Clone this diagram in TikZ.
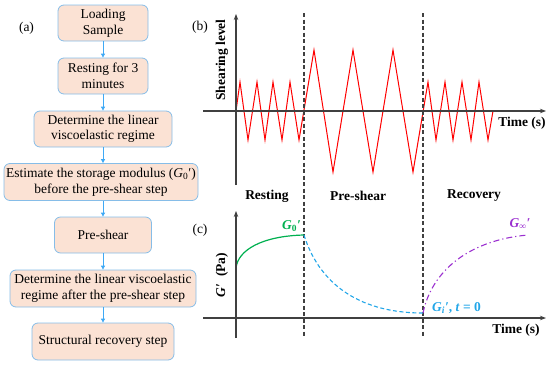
\documentclass[tikz,border=0pt]{standalone}
\usepackage{fontspec}
\setmainfont{Liberation Serif}
\usetikzlibrary{arrows.meta}
\definecolor{boxfill}{HTML}{FBE2D4}
\definecolor{boxline}{HTML}{86BDE8}
\definecolor{arrblue}{HTML}{3FA9F5}
\definecolor{gcol}{HTML}{00B050}
\definecolor{bcol}{HTML}{22A6E8}
\definecolor{pcol}{HTML}{9B30D0}
\definecolor{axcol}{HTML}{404040}
\begin{document}
\begin{tikzpicture}[x=1pt,y=-1pt,
 stepbox/.style={draw=boxline, fill=boxfill, rounded corners=6pt, line width=0.8pt, align=center, inner sep=0pt, minimum height=36pt, font=\fontsize{13.5}{15.5}\selectfont},
 flow/.style={draw=arrblue, line width=0.8pt, -{Triangle[length=4pt,width=4pt]}},
 axis/.style={draw=axcol, line width=1.1pt, -{Stealth[length=6pt,width=4.5pt]}},
 divider/.style={draw=axcol, line width=1.1pt, dash pattern=on 4pt off 2.5pt},
 lbl/.style={font=\fontsize{13.5}{15}\selectfont},
 blbl/.style={font=\bfseries\fontsize{13.5}{15}\selectfont}]
\useasboundingbox (0,0) rectangle (550,365);

% ---- (a) flowchart
\node[lbl] (la) at (26.5,28) {(a)};
\node[stepbox, minimum width=90pt] (b1) at (103,23) {Loading\\Sample};
\node[stepbox, minimum width=90pt] (b2) at (103,76) {Resting for 3\\minutes};
\node[stepbox, minimum width=138pt] (b3) at (103,129) {Determine the linear\\viscoelastic regime};
\node[stepbox, minimum width=194pt, minimum height=37pt] (b4) at (101,182) {Estimate the storage modulus (\textit{G}\textsubscript{0}′)\\before the pre-shear step};
\node[stepbox, minimum width=97pt] (b5) at (103,235) {Pre-shear};
\node[stepbox, minimum width=186pt, minimum height=37pt] (b6) at (103,288.5) {Determine the linear viscoelastic\\regime after the pre-shear step};
\node[stepbox, minimum width=142pt, minimum height=37pt] (b7) at (103,341.5) {Structural recovery step};
\draw[flow] (b1.south) -- (b2.north);
\draw[flow] (b2.south) -- (b3.north);
\draw[flow] (b3.south) -- (b4.north -| b3.south);
\draw[flow] (b4.south -| b5.north) -- (b5.north);
\draw[flow] (b5.south) -- (b6.north);
\draw[flow] (b6.south) -- (b7.north);

% ---- (b) shearing
\node[lbl] (lb) at (200,27) {(b)};
\draw[red, line width=1pt] (236,111) -- (240,82) -- (248,140) -- (257,82) -- (265,140) -- (273,82) -- (282,140) -- (290,82) -- (299,140)
  -- (314,50) -- (333,172) -- (353,50) -- (373,172) -- (393,50) -- (413,172)
  -- (428,82) -- (436,140) -- (445,82) -- (453,140) -- (462,82) -- (471,140) -- (479,82) -- (488,140) -- (493,111);
\coordinate (bo) at (236,185);
\coordinate (btop) at (236,14);
\coordinate (bxl) at (203,111);
\coordinate (bxr) at (546,111);
\draw[axis] (bo) -- (btop);
\draw[axis] (bxl) -- (bxr);
\node[blbl, rotate=90] (ylb) at (222,60) {Shearing level};
\node[blbl] (tb) at (522,123) {Time (s)};

% ---- dividers
\coordinate (d1t) at (304,13); \coordinate (d1b) at (304,337);
\coordinate (d2t) at (423,13); \coordinate (d2b) at (423,337);
\draw[divider] (d1t) -- (d1b);
\draw[divider] (d2t) -- (d2b);
\node[blbl] (s1) at (267,196) {Resting};
\node[blbl] (s2) at (358,196) {Pre-shear};
\node[blbl] (s3) at (474,196) {Recovery};

% ---- (c) modulus
\node[lbl] (lc) at (200,230) {(c)};
\coordinate (co) at (236,338);
\coordinate (ctop) at (236,211);
\coordinate (cxl) at (203,318);
\coordinate (cxr) at (546,318);
\draw[gcol, line width=1.2pt] (236,268) .. controls (238,250) and (262,236) .. (304,235);
\draw[bcol, line width=1.1pt, dash pattern=on 4pt off 2.5pt] (304,235) .. controls (318,280) and (355,313) .. (423,313);
\draw[pcol, line width=1.1pt, dash pattern=on 6pt off 3pt on 1.2pt off 3pt] (423,313) .. controls (432,270) and (470,240) .. (528,235);
\draw[axis] (co) -- (ctop);
\draw[axis] (cxl) -- (cxr);
\node[blbl, rotate=90] (ylc) at (222,275) {\textit{G′}\enspace(Pa)};
\node[blbl] (tc) at (516,330) {Time (s)};
\node[blbl, text=gcol, anchor=east, inner sep=1pt] (g0) at (302,226) {\textit{G}\textsubscript{0}\textit{′}};
\node[blbl, text=bcol, anchor=west, inner sep=1pt] (gi) at (431,308) {\textit{G}\textsubscript{\textit{i}}\textit{′}, \textit{t} = 0};
\node[blbl, text=pcol] (ginf) at (520,224) {\textit{G}\textsubscript{∞}\textit{′}};
\end{tikzpicture}
\end{document}
